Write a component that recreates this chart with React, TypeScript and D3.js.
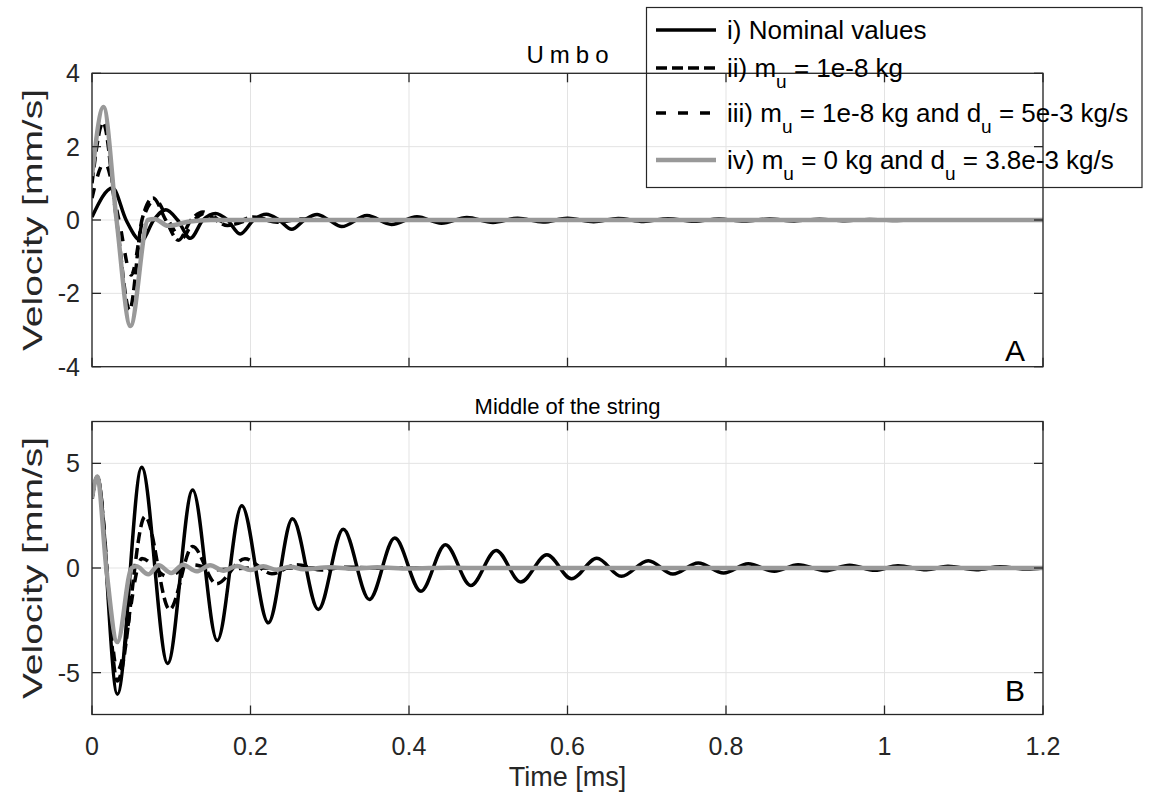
import React from "react";
import * as d3 from "d3";

// ---------- data (time in ms, velocity in mm/s) ----------
const xTicks = [0, 0.2, 0.4, 0.6, 0.8, 1, 1.2];
const xTickLabels = ["0", "0.2", "0.4", "0.6", "0.8", "1", "1.2"];
const umboYTicks = [-4, -2, 0, 2, 4];
const stringYTicks = [-5, 0, 5];

const umboNominal: [number, number][] = [
  [0, 0.08], [0.026, 0.87], [0.043, 0], [0.062, -0.57], [0.078, 0], [0.093, 0.28], [0.108, 0],
  [0.124, -0.5], [0.14, 0], [0.156, 0.18], [0.171, 0], [0.187, -0.38], [0.204, 0], [0.22, 0.155],
  [0.236, 0], [0.252, -0.25], [0.268, 0], [0.284, 0.15], [0.299, 0], [0.315, -0.18], [0.347, 0.12],
  [0.378, -0.12], [0.41, 0.09], [0.441, -0.09], [0.473, 0.065], [0.506, -0.065], [0.537, 0.05],
  [0.569, -0.055], [0.6, 0.045], [0.633, -0.045], [0.664, 0.04], [0.696, -0.04], [0.727, 0.035],
  [0.76, -0.035], [0.791, 0.03], [0.823, -0.03], [0.855, 0.025], [0.886, -0.025], [0.918, 0.02],
  [0.95, -0.02], [0.981, 0.015], [1.013, -0.012], [1.045, 0.01], [1.077, -0.008], [1.108, 0.006],
  [1.14, -0.005], [1.2, 0],
];
const umboMassOnly: [number, number][] = [
  [0, 1.0], [0.014, 2.65], [0.031, 0], [0.0475, -2.45], [0.063, 0], [0.077, 0.6], [0.093, 0],
  [0.109, -0.55], [0.125, 0], [0.14, 0.22], [0.156, 0], [0.171, -0.15], [0.203, 0.08],
  [0.234, -0.06], [0.266, 0.03], [0.3, -0.01], [0.34, 0], [1.2, 0],
];
const umboMassDamping: [number, number][] = [
  [0, 0.6], [0.016, 1.57], [0.034, 0], [0.0496, -1.5], [0.064, 0], [0.08, 0.55], [0.096, 0],
  [0.113, -0.5], [0.129, 0], [0.145, 0.2], [0.16, 0], [0.176, -0.12], [0.208, 0.05],
  [0.24, -0.03], [0.28, 0], [1.2, 0],
];
const umboNoMass: [number, number][] = [
  [0, 1.2], [0.0145, 3.08], [0.031, 0], [0.0485, -2.89], [0.0707, 0], [0.079, 0.03],
  [0.096, -0.16], [0.121, -0.05], [0.15, 0], [1.2, 0],
];

const stringNominal: [number, number][] = [
  [0, 3.33], [0.0067, 4.37], [0.032, -6.03], [0.0627, 4.81], [0.0955, -4.56], [0.127, 3.73],
  [0.158, -3.46], [0.189, 2.97], [0.2225, -2.62], [0.253, 2.35], [0.2856, -1.98], [0.317, 1.85],
  [0.35, -1.5], [0.382, 1.43], [0.415, -1.11], [0.446, 1.11], [0.478, -0.84], [0.51, 0.84],
  [0.541, -0.67], [0.574, 0.63], [0.605, -0.51], [0.637, 0.46], [0.668, -0.4], [0.702, 0.35],
  [0.733, -0.29], [0.765, 0.24], [0.797, -0.24], [0.828, 0.2], [0.861, -0.16], [0.891, 0.16],
  [0.925, -0.13], [0.956, 0.13], [0.988, -0.11], [1.017, 0.11], [1.053, -0.08], [1.08, 0.08],
  [1.116, -0.08], [1.146, 0.06], [1.18, -0.05], [1.2, 0],
];
const stringMassOnly: [number, number][] = [
  [0, 3.33], [0.0067, 4.35], [0.032, -5.4], [0.067, 2.46], [0.098, -1.98], [0.127, 1.03],
  [0.157, -0.75], [0.193, 0.44], [0.227, -0.27], [0.258, 0.15], [0.29, -0.1], [0.32, 0.04],
  [0.36, 0], [1.2, 0],
];
const stringMassDamping: [number, number][] = [
  [0, 3.33], [0.0067, 4.35], [0.032, -4.9], [0.063, 0.45], [0.095, -0.4], [0.127, 0.15],
  [0.158, -0.08], [0.2, 0], [1.2, 0],
];
const stringNoMass: [number, number][] = [
  [0, 3.33], [0.0067, 4.37], [0.018, 0], [0.032, -3.54], [0.05, 0], [0.056, 0.08], [0.071, -0.3],
  [0.084, 0.13], [0.1, -0.24], [0.115, 0.16], [0.132, -0.16], [0.149, 0.13], [0.166, -0.13],
  [0.183, 0.1], [0.2, -0.1], [0.216, 0.08], [0.233, -0.08], [0.25, 0.06], [0.267, -0.06],
  [0.3, 0.04], [0.33, -0.04], [0.36, 0.03], [0.4, -0.02], [0.45, 0.01], [0.5, 0], [1.2, 0],
];

type Seg = { t: string; sub?: boolean };
const legendLabels: Seg[][] = [
  [{ t: "i) Nominal values" }],
  [{ t: "ii) m" }, { t: "u", sub: true }, { t: " = 1e-8 kg" }],
  [{ t: "iii) m" }, { t: "u", sub: true }, { t: " = 1e-8 kg and d" }, { t: "u", sub: true }, { t: " = 5e-3 kg/s" }],
  [{ t: "iv) m" }, { t: "u", sub: true }, { t: " = 0 kg and d" }, { t: "u", sub: true }, { t: " = 3.8e-3 kg/s" }],
];

// ---------- styles ----------
const FONT = "'Liberation Sans', Arial, Helvetica, sans-serif";
const seriesStyle = [
  { color: "#000000", width: 3.5, dash: "" },
  { color: "#000000", width: 3.5, dash: "11 5" },
  { color: "#000000", width: 3.5, dash: "10 12" },
  { color: "#999999", width: 4.5, dash: "" },
];

const X0 = 92, X1 = 1043;
const A_TOP = 73.3, A_BOT = 366.7;
const B_TOP = 421.5, B_BOT = 714.5;
const TICK = 9;

function Panel(props: {
  id: string;
  y: d3.ScaleLinear<number, number>;
  x: d3.ScaleLinear<number, number>;
  yTicks: number[];
  top: number;
  bottom: number;
  series: [number, number][][];
  showXLabels: boolean;
  title: string;
  titleSize: number;
  titleSpacing: number;
  titleBaseline: number;
  letter: string;
  letterBaseline: number;
}) {
  const { id, x, y, yTicks, top, bottom, series, showXLabels, title, titleSize, titleSpacing, titleBaseline, letter, letterBaseline } = props;
  const line = d3
    .line<[number, number]>()
    .x((d) => x(d[0]))
    .y((d) => y(d[1]))
    .curve(d3.curveMonotoneX);
  const axisColor = "#262626";
  return (
    <g>
      <defs>
        <clipPath id={id}>
          <rect x={X0} y={top} width={X1 - X0} height={bottom - top} />
        </clipPath>
      </defs>
      {/* grid */}
      {xTicks.map((t, i) => (
        <line key={"gx" + i} x1={x(t)} x2={x(t)} y1={top} y2={bottom} stroke="#e3e3e3" strokeWidth={1} />
      ))}
      {yTicks.map((t, i) => (
        <line key={"gy" + i} x1={X0} x2={X1} y1={y(t)} y2={y(t)} stroke="#e3e3e3" strokeWidth={1} />
      ))}
      {/* series */}
      <g clipPath={`url(#${id})`}>
        {series.map((s, i) => (
          <path
            key={"s" + i}
            d={line(s) || ""}
            fill="none"
            stroke={seriesStyle[i].color}
            strokeWidth={seriesStyle[i].width}
            strokeDasharray={seriesStyle[i].dash || undefined}
            strokeLinejoin="round"
          />
        ))}
      </g>
      {/* box */}
      <rect x={X0} y={top} width={X1 - X0} height={bottom - top} fill="none" stroke={axisColor} strokeWidth={1.3} />
      {/* ticks */}
      {xTicks.map((t, i) => (
        <g key={"tx" + i}>
          <line x1={x(t)} x2={x(t)} y1={bottom} y2={bottom - TICK} stroke={axisColor} strokeWidth={1.3} />
          <line x1={x(t)} x2={x(t)} y1={top} y2={top + TICK} stroke={axisColor} strokeWidth={1.3} />
        </g>
      ))}
      {yTicks.map((t, i) => (
        <g key={"ty" + i}>
          <line x1={X0} x2={X0 + TICK} y1={y(t)} y2={y(t)} stroke={axisColor} strokeWidth={1.3} />
          <line x1={X1} x2={X1 - TICK} y1={y(t)} y2={y(t)} stroke={axisColor} strokeWidth={1.3} />
          <text x={X0 - 12} y={y(t) + 9} textAnchor="end" fontSize={25} fontFamily={FONT} fill="#262626">
            {t}
          </text>
        </g>
      ))}
      {showXLabels &&
        xTicks.map((t, i) => (
          <text key={"lx" + i} x={x(t)} y={bottom + 40} textAnchor="middle" fontSize={25} fontFamily={FONT} fill="#262626">
            {xTickLabels[i]}
          </text>
        ))}
      {/* title */}
      <text
        x={(X0 + X1) / 2 + titleSpacing / 2}
        y={titleBaseline}
        textAnchor="middle"
        fontSize={titleSize}
        fontFamily={FONT}
        letterSpacing={titleSpacing}
        fill="#000"
      >
        {title}
      </text>
      {/* y label */}
      <text
        transform={`translate(42, ${(top + bottom) / 2}) rotate(-90)`}
        textAnchor="middle"
        fontSize={28}
        fontFamily={FONT}
        textLength={262}
        lengthAdjust="spacingAndGlyphs"
        fill="#262626"
      >
        Velocity [mm/s]
      </text>
      {/* panel letter */}
      <text x={1015} y={letterBaseline} textAnchor="middle" fontSize={30} fontFamily={FONT} fill="#000">
        {letter}
      </text>
    </g>
  );
}

export default function App() {
  const x = d3.scaleLinear().domain([0, 1.2]).range([X0, X1]);
  const yA = d3.scaleLinear().domain([-4, 4]).range([A_BOT, A_TOP]);
  const yB = d3.scaleLinear().domain([-7, 7]).range([B_BOT, B_TOP]);

  const legendRows = [30, 68, 113, 160];
  const LX0 = 656, LX1 = 716, LT = 727;

  return (
    <svg
      width={1150}
      height={802}
      style={{ position: "absolute", left: 0, top: 0, background: "#fff" }}
      xmlns="http://www.w3.org/2000/svg"
    >
      <rect x={0} y={0} width={1150} height={802} fill="#fff" />
      <Panel
        id="clipA"
        x={x}
        y={yA}
        yTicks={umboYTicks}
        top={A_TOP}
        bottom={A_BOT}
        series={[umboNominal, umboMassOnly, umboMassDamping, umboNoMass]}
        showXLabels={false}
        title="Umbo"
        titleSize={24}
        titleSpacing={6}
        titleBaseline={63}
        letter="A"
        letterBaseline={361}
      />
      <Panel
        id="clipB"
        x={x}
        y={yB}
        yTicks={stringYTicks}
        top={B_TOP}
        bottom={B_BOT}
        series={[stringNominal, stringMassOnly, stringMassDamping, stringNoMass]}
        showXLabels={true}
        title="Middle of the string"
        titleSize={22}
        titleSpacing={0}
        titleBaseline={414}
        letter="B"
        letterBaseline={701}
      />
      <text x={(X0 + X1) / 2} y={786} textAnchor="middle" fontSize={27} fontFamily={FONT} fill="#262626">
        Time [ms]
      </text>
      {/* legend */}
      <rect x={646.5} y={7.5} width={495.5} height={180} fill="none" stroke="#262626" strokeWidth={1.2} />
      {legendLabels.map((segs, i) => {
        const yy = legendRows[i];
        const st = seriesStyle[i];
        let down = false;
        return (
          <g key={"lg" + i}>
            <line
              x1={LX0}
              x2={LX1}
              y1={yy}
              y2={yy}
              stroke={st.color}
              strokeWidth={st.width}
              strokeDasharray={st.dash || undefined}
            />
            <text x={LT} y={yy + 9} fontSize={26} fontFamily={FONT} fill="#000">
              {segs.map((s, j) => {
                let dy = 0;
                if (s.sub && !down) {
                  dy = 11;
                  down = true;
                } else if (!s.sub && down) {
                  dy = -11;
                  down = false;
                }
                return (
                  <tspan key={j} dy={dy} fontSize={s.sub ? 19 : 26}>
                    {s.t}
                  </tspan>
                );
              })}
            </text>
          </g>
        );
      })}
    </svg>
  );
}
